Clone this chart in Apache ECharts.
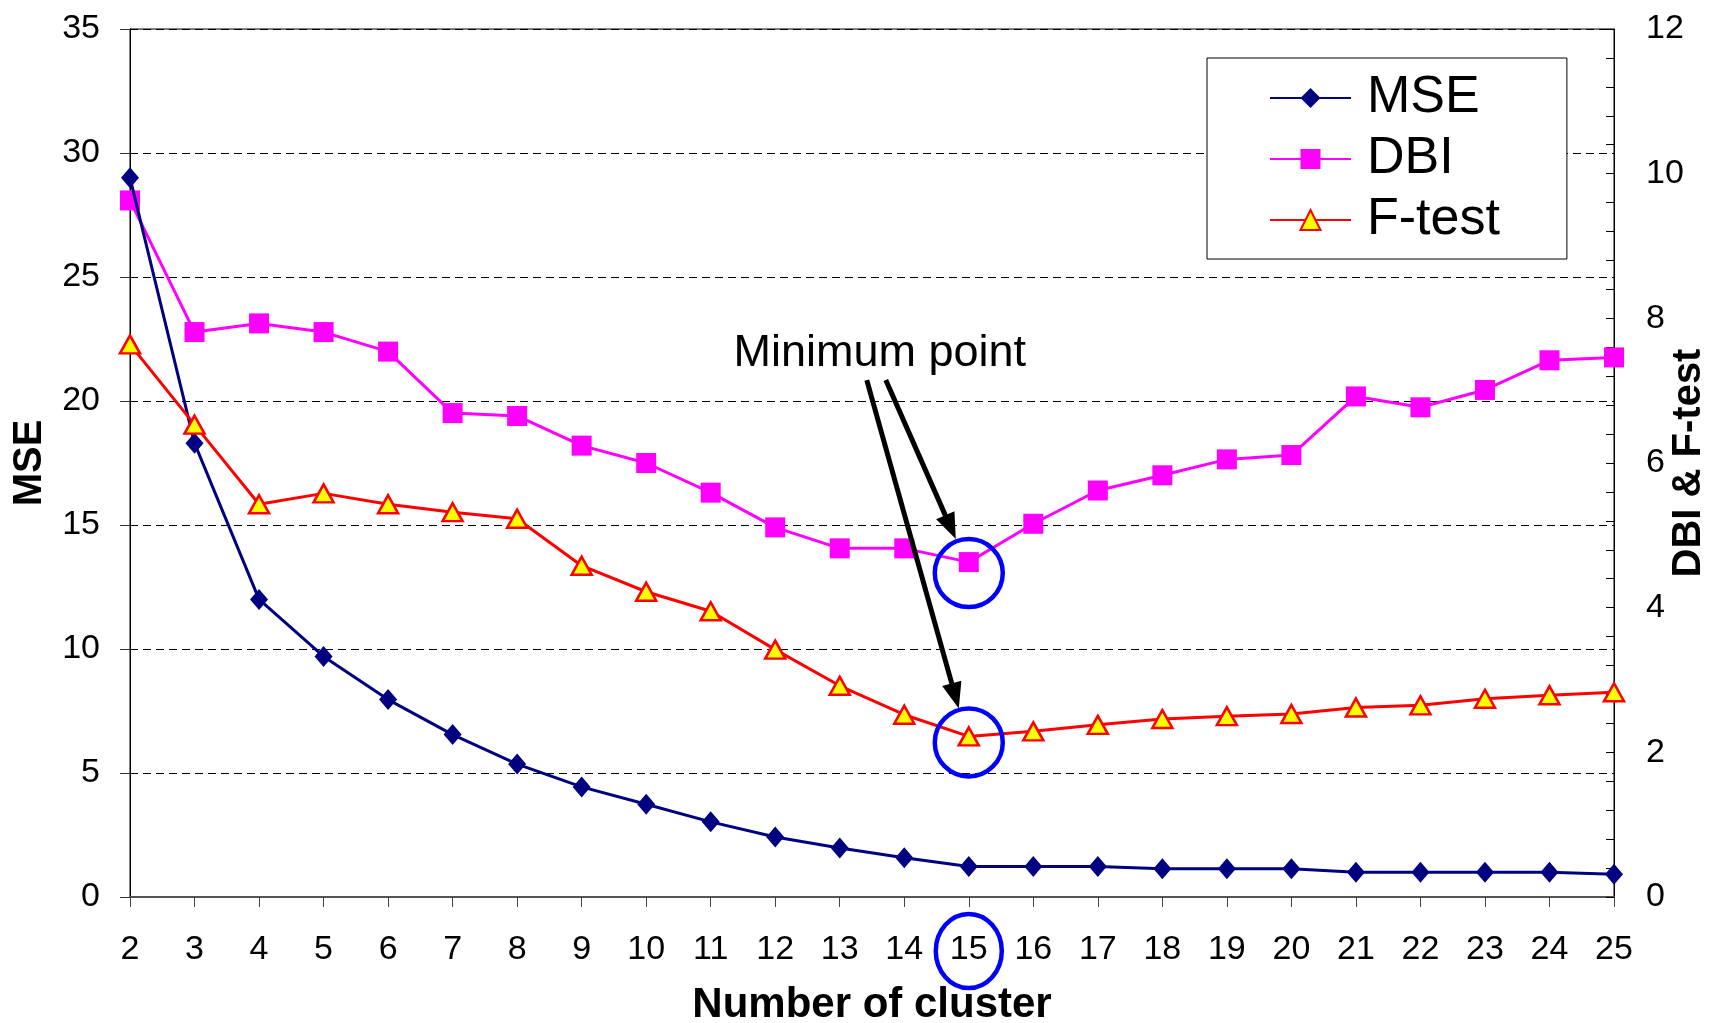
<!DOCTYPE html>
<html>
<head>
<meta charset="utf-8">
<script src="https://cdn.jsdelivr.net/npm/echarts@6/dist/echarts.min.js"></script>
<style>
html,body{margin:0;padding:0;background:#fff;}
#chart{width:1709px;height:1023px;}
</style>
</head>
<body>
<div id="chart"></div>
<script>
const categories = ['2','3','4','5','6','7','8','9','10','11','12','13','14','15','16','17','18','19','20','21','22','23','24','25'];
const mseValues = [29.0,18.3,12.0,9.7,7.96,6.55,5.36,4.44,3.74,3.03,2.42,1.98,1.58,1.23,1.23,1.23,1.14,1.14,1.14,1.0,1.0,1.0,1.0,0.92];
const dbiValues = [9.63,7.81,7.93,7.81,7.54,6.69,6.65,6.24,6.0,5.59,5.11,4.82,4.82,4.63,5.16,5.62,5.83,6.05,6.11,6.92,6.77,7.01,7.42,7.46];
const fTestValues = [7.64,6.53,5.43,5.58,5.43,5.32,5.23,4.58,4.22,3.95,3.42,2.92,2.52,2.22,2.29,2.38,2.46,2.50,2.53,2.62,2.65,2.74,2.79,2.83];
const leftTicks = [0,5,10,15,20,25,30,35];
const rightTicks = [0,2,4,6,8,10,12];
const annotationText = 'Minimum point';

const FONT = "'Liberation Sans', Arial, sans-serif";
const chart = echarts.init(document.getElementById('chart'), null, {renderer:'canvas'});

const option = {
  animation: false,
  backgroundColor: '#fff',
  textStyle: {fontFamily: FONT},
  grid: {left:130, right:95, top:29, bottom:126, containLabel:false, outerBoundsMode:'none',
         show:true, borderColor:'#000', borderWidth:1, backgroundColor:'transparent'},
  legend: {
    orient:'vertical', left:1207, top:58,
    backgroundColor:'#fff', borderColor:'#000', borderWidth:1,
    padding:[14,67,13,62], itemGap:9, itemWidth:81, itemHeight:25,
    textStyle:{fontSize:52, fontFamily:FONT, color:'#000', lineHeight:52, padding:[0,0,0,11]},
    data:['MSE','DBI','F-test']
  },
  xAxis: {
    type:'category', data:categories, boundaryGap:false,
    name:'Number of cluster', nameLocation:'middle', nameGap:87, nameMoveOverlap:false,
    nameTextStyle:{fontSize:42, fontWeight:'bold', color:'#000', fontFamily:FONT},
    axisLine:{lineStyle:{color:'#555', width:2}},
    axisTick:{show:true, length:10, interval:0, lineStyle:{color:'#444', width:1}},
    axisLabel:{interval:0, fontSize:34, color:'#000', margin:36, fontFamily:FONT},
    splitLine:{show:false}
  },
  yAxis: [
    {
      type:'value', position:'left', min:leftTicks[0], max:leftTicks[leftTicks.length-1], interval:leftTicks[1]-leftTicks[0],
      name:'MSE', nameLocation:'middle', nameGap:80, nameRotate:90, nameMoveOverlap:false,
      nameTextStyle:{fontSize:40, fontWeight:'bold', color:'#000', fontFamily:FONT},
      axisLine:{show:true, lineStyle:{color:'#000', width:1}},
      axisTick:{show:true, length:10, lineStyle:{color:'#333'}},
      axisLabel:{fontSize:34, color:'#000', margin:30, fontFamily:FONT},
      splitLine:{show:true, lineStyle:{color:'#000', type:[8,5], width:1}}
    },
    {
      type:'value', position:'right', min:rightTicks[0], max:rightTicks[rightTicks.length-1], interval:rightTicks[1]-rightTicks[0],
      name:'DBI & F-test', nameLocation:'middle', nameGap:55, nameRotate:90, nameMoveOverlap:false,
      nameTextStyle:{fontSize:40, fontWeight:'bold', color:'#000', fontFamily:FONT},
      axisLine:{show:true, lineStyle:{color:'#000', width:1}},
      axisTick:{show:true, inside:true, length:8, lineStyle:{color:'#000'}},
      minorTick:{show:true, splitNumber:5, length:8, lineStyle:{color:'#000'}},
      axisLabel:{fontSize:34, color:'#000', margin:32, fontFamily:FONT},
      splitLine:{show:false}
    }
  ],
  series: [
    {
      name:'MSE', type:'line', yAxisIndex:0, data:mseValues,
      symbol:'diamond', symbolSize:[18,21],
      itemStyle:{color:'#000080'}, lineStyle:{color:'#000080', width:3}, z:3
    },
    {
      name:'DBI', type:'line', yAxisIndex:1, data:dbiValues,
      symbol:'rect', symbolSize:20,
      itemStyle:{color:'#FF00FF'}, lineStyle:{color:'#FF00FF', width:3}, z:2
    },
    {
      name:'F-test', type:'line', yAxisIndex:1, data:fTestValues,
      symbol:'triangle', symbolSize:[20,18],
      itemStyle:{color:'#FFFF00', borderColor:'#FF0000', borderWidth:2.5}, lineStyle:{color:'#FF0000', width:3}, z:4
    }
  ]
};
chart.setOption(option);

function argMin(arr){ let k=0; for(let i=1;i<arr.length;i++){ if(arr[i]<arr[k]) k=i; } return k; }
const iDbi = argMin(dbiValues);
const iF = argMin(fTestValues);
const pDbi = chart.convertToPixel({xAxisIndex:0, yAxisIndex:1}, [iDbi, dbiValues[iDbi]]);
const pF = chart.convertToPixel({xAxisIndex:0, yAxisIndex:1}, [iF, fTestValues[iF]]);
const pBase = chart.convertToPixel({xAxisIndex:0, yAxisIndex:0}, [iF, 0]);

const R = 34;
const cDbi = [pDbi[0], pDbi[1] + 11];
const cF = [pF[0], pF[1] + 6];
const cLab = [pBase[0], pBase[1] + 54];
const textC = [pDbi[0] - 89, pDbi[1] - 209];

function arrow(start, tip){
  const dx = tip[0]-start[0], dy = tip[1]-start[1];
  const len = Math.hypot(dx,dy); const ux = dx/len, uy = dy/len;
  const L = 26, W = 20;
  const bx = tip[0]-ux*L, by = tip[1]-uy*L;
  const nx = -uy, ny = ux;
  return [
    {type:'line', shape:{x1:start[0], y1:start[1], x2:bx+ux*2, y2:by+uy*2}, style:{stroke:'#000', lineWidth:5}, z:100},
    {type:'polygon', shape:{points:[[tip[0],tip[1]],[bx+nx*W/2, by+ny*W/2],[bx-nx*W/2, by-ny*W/2]]}, style:{fill:'#000'}, z:100}
  ];
}

const ring = (c, rx, ry) => ({type:'ellipse', shape:{cx:c[0], cy:c[1], rx:rx, ry:ry}, style:{fill:'none', stroke:'#0000FF', lineWidth:4.5}, z:100});

const graphics = [
  ring(cDbi, R, R), ring(cF, R, R), ring(cLab, 33, 37),
  {type:'text', x:textC[0], y:textC[1], style:{text:annotationText, font:"45px 'Liberation Sans', Arial, sans-serif", fill:'#000', align:'center', verticalAlign:'middle'}, z:100}
].concat(
  arrow([textC[0]+6, textC[1]+27], [cDbi[0]-13, cDbi[1]-R]),
  arrow([textC[0]-13, textC[1]+27], [cF[0]-10, cF[1]-R])
);
chart.setOption({graphic: graphics});
</script>
</body>
</html>
